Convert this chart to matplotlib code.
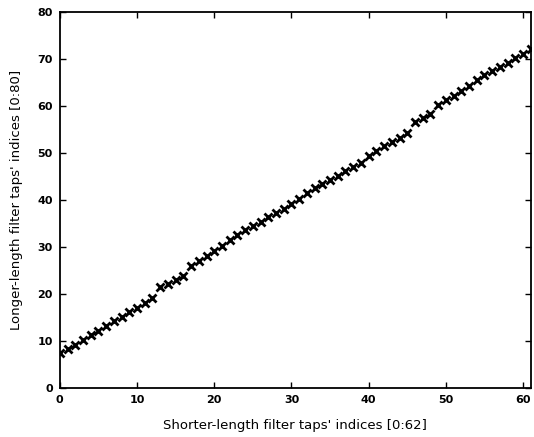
import matplotlib
matplotlib.use("Agg")
import matplotlib.pyplot as plt

# indices of the shorter filter taps
shorter_idx = list(range(0, 62))

# matching indices in the longer filter
longer_idx = [7.5, 8.4, 9.2, 10.2, 11.2, 12.1, 13.2, 14.2, 15.2, 16.1,
              17.1, 18.1, 19.2, 21.5, 22.2, 23.0, 23.9, 26.0, 27.0, 28.0,
              29.2, 30.3, 31.4, 32.5, 33.6, 34.5, 35.3, 36.3, 37.2, 38.1,
              39.1, 40.3, 41.5, 42.6, 43.4, 44.2, 45.1, 46.1, 47.0, 47.9,
              49.3, 50.3, 51.4, 52.3, 53.2, 54.2, 56.5, 57.4, 58.3, 60.2,
              61.3, 62.2, 63.2, 64.3, 65.4, 66.5, 67.4, 68.3, 69.2, 70.2,
              71.1, 72.0]

x_ticks = [0, 10, 20, 30, 40, 50, 60]
y_ticks = [0, 10, 20, 30, 40, 50, 60, 70, 80]

fig = plt.figure(figsize=(5.34, 4.37), dpi=100)
ax = fig.add_axes([0.112, 0.112, 0.882, 0.861])

ax.plot(shorter_idx, longer_idx, linestyle="none", marker="x",
        color="black", markersize=6, markeredgewidth=2)

ax.set_xlim(0, 61)
ax.set_ylim(0, 80)
ax.set_xticks(x_ticks)
ax.set_yticks(y_ticks)
ax.tick_params(direction="in", top=True, right=True, length=4,
               labelsize=8, width=1, pad=5)
for lab in ax.get_xticklabels() + ax.get_yticklabels():
    lab.set_fontweight("bold")
for s in ax.spines.values():
    s.set_linewidth(1.3)

ax.set_xlabel("Shorter-length filter taps' indices [0:62]", fontsize=9.5,
              labelpad=10)
ax.set_ylabel("Longer-length filter taps' indices [0:80]", fontsize=9.5,
              labelpad=10)

fig.savefig("out.png", dpi=100)
